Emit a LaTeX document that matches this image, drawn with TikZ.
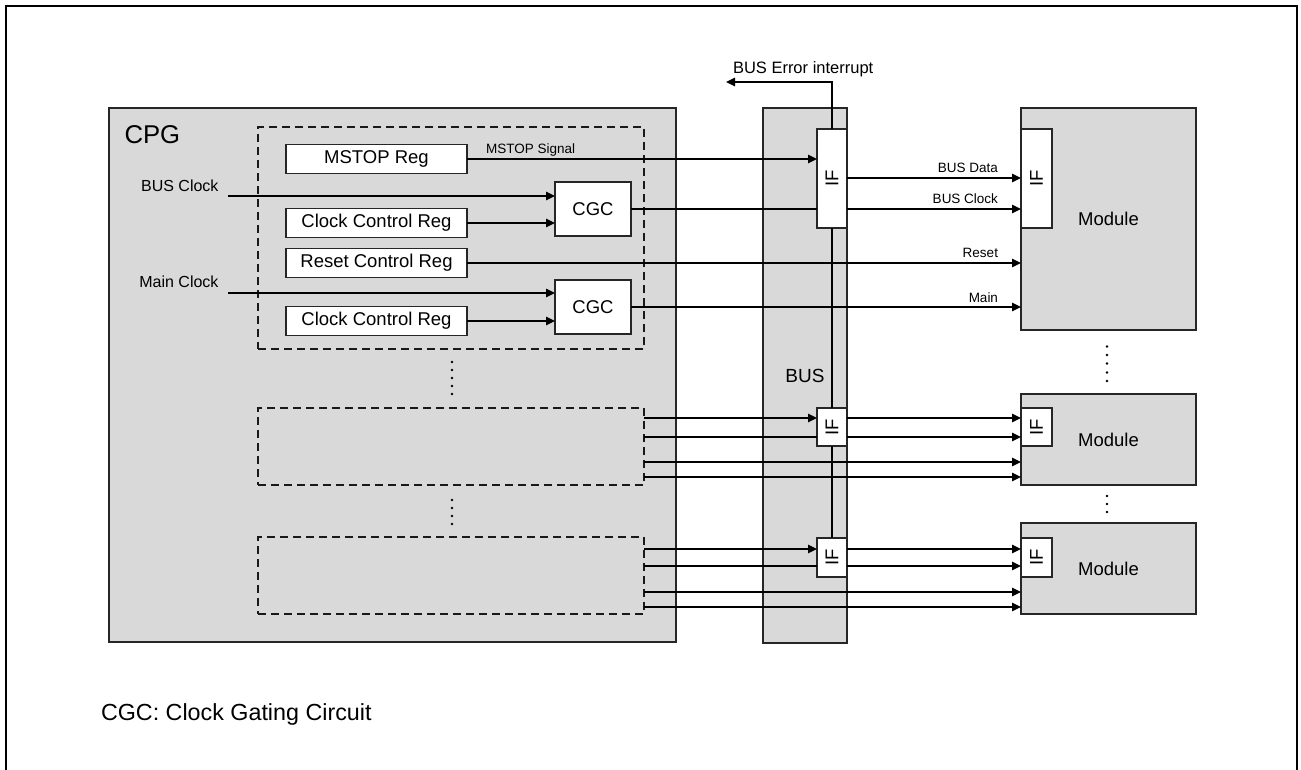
\documentclass[tikz,border=0pt]{standalone}
\usepackage{fontspec}
\setmainfont{Liberation Sans}
\usetikzlibrary{arrows.meta}
\definecolor{boxgray}{RGB}{217,217,217}
\begin{document}
\begin{tikzpicture}[x=1pt,y=-1pt,
  every node/.style={inner sep=0pt, outer sep=0pt},
  graybox/.style={draw=black!85, fill=boxgray, line width=1.6pt},
  regbox/.style={draw=black!85, fill=white, line width=1.6pt, font=\fontsize{18.5}{20}\selectfont},
  dbox/.style={draw=black!90, line width=1.5pt, dash pattern=on 8pt off 5pt},
  conn/.style={line width=1.3pt, draw=black},
  arr/.style={conn, -{Triangle[length=9pt,width=8.5pt]}},
  smalltxt/.style={font=\fontsize{13.5}{15}\selectfont},
  midtxt/.style={font=\fontsize{16}{18}\selectfont},
  bigtxt/.style={font=\fontsize{18.5}{20}\selectfont}
]
\useasboundingbox (0,0) rectangle (1301,769);
% outer frame
\draw[line width=2pt] (6,775) -- (6,6) -- (1297,6) -- (1297,775);

% main blocks
\node[graybox, minimum width=567pt, minimum height=534pt] (cpg) at (392.5,375) {};
\node[anchor=west, font=\fontsize{25.7}{28}\selectfont] (cpgt) at (124.5,135) {CPG};
\node[graybox, minimum width=84pt, minimum height=535pt] (bus) at (805,375.5) {};
\node[font=\fontsize{19}{21}\selectfont] (bust) at (805,376) {BUS};

% modules
\node[graybox, bigtxt, minimum width=175pt, minimum height=222pt] (mod1) at (1108.5,219) {Module};
\node[graybox, bigtxt, minimum width=175pt, minimum height=91pt] (mod2) at (1108.5,439.5) {Module};
\node[graybox, bigtxt, minimum width=175pt, minimum height=91pt] (mod3) at (1108.5,568.5) {Module};
\node[regbox, minimum width=31pt, minimum height=99pt] (mif1) at (1036.5,178.5) {};
\node[regbox, minimum width=31pt, minimum height=38pt] (mif2) at (1036.5,427) {};
\node[regbox, minimum width=31pt, minimum height=39pt] (mif3) at (1036.5,557.5) {};
\node[bigtxt, rotate=90] (mif1t) at (mif1) {IF};
\node[bigtxt, rotate=90] (mif2t) at (mif2) {IF};
\node[bigtxt, rotate=90] (mif3t) at (mif3) {IF};

% bus interfaces
\node[regbox, minimum width=30pt, minimum height=99pt] (ifA) at (832,178.5) {};
\node[regbox, minimum width=30pt, minimum height=38pt] (ifB) at (832,427) {};
\node[regbox, minimum width=30pt, minimum height=39pt] (ifC) at (832,557.5) {};
\node[bigtxt, rotate=90] (ifAt) at (ifA) {IF};
\node[bigtxt, rotate=90] (ifBt) at (ifB) {IF};
\node[bigtxt, rotate=90] (ifCt) at (ifC) {IF};

% dashed groups
\node[dbox, minimum width=386pt, minimum height=222pt] (d1) at (451,238) {};
\node[dbox, minimum width=386pt, minimum height=77pt] (d2) at (451,446.5) {};
\node[dbox, minimum width=386pt, minimum height=77pt] (d3) at (451,575.5) {};

% registers
\node[regbox, minimum width=181pt, minimum height=29pt] (mstop) at (376.5,159) {MSTOP Reg};
\node[regbox, minimum width=181pt, minimum height=29pt] (ccr1) at (376.5,223) {Clock Control Reg};
\node[regbox, minimum width=181pt, minimum height=29pt] (rcr) at (376.5,263) {Reset Control Reg};
\node[regbox, minimum width=181pt, minimum height=29pt] (ccr2) at (376.5,321) {Clock Control Reg};
\node[regbox, minimum width=76pt, minimum height=54pt] (cgc1) at (593,209) {CGC};
\node[regbox, minimum width=76pt, minimum height=54pt] (cgc2) at (593,307) {CGC};

% clock inputs
\node[midtxt, anchor=east] (bclkt) at (218.5,186) {BUS Clock};
\node[midtxt, anchor=east] (mclkt) at (218.5,282) {Main Clock};
\coordinate (bclk) at (228,196);
\coordinate (mclk) at (228,293);
\draw[arr] (bclk) -- (bclk -| cgc1.west);
\draw[arr] (mclk) -- (mclk -| cgc2.west);
\draw[arr] (ccr1.east) -- (ccr1.east -| cgc1.west);
\draw[arr] (ccr2.east) -- (ccr2.east -| cgc2.west);

% group 1 signals
\draw[arr] (mstop.east) -- (mstop.east -| ifA.west);
\node[smalltxt, anchor=base west] (mstopt) at (486,153) {MSTOP Signal};
\draw[conn] (cgc1.east) -- (cgc1.east -| ifA.west);
\draw[arr] (ifA.east |- cgc1.east) -- (cgc1.east -| mif1.west);
\coordinate (bdata) at (847,178);
\draw[arr] (bdata) -- (bdata -| mif1.west);
\draw[arr] (rcr.east) -- (rcr.east -| mod1.west);
\draw[arr] (cgc2.east) -- (cgc2.east -| mod1.west);
\node[smalltxt, anchor=base east] (bdatat) at (998,172) {BUS Data};
\node[smalltxt, anchor=base east] (bclkt2) at (998,203) {BUS Clock};
\node[smalltxt, anchor=base east] (rstt) at (998,257) {Reset};
\node[smalltxt, anchor=base east] (maint) at (998,302) {Main};

% bus error and bus spine
\coordinate (errtip) at (726,82);
\draw[arr] (ifA.north) -- (ifA.north |- errtip) -- (errtip);
\node[font=\fontsize{16.5}{18}\selectfont, anchor=base west] (errt) at (733,73) {BUS Error interrupt};
\draw[conn] (ifA.south) -- (ifB.north);
\draw[conn] (ifB.south) -- (ifC.north);

% group 2
\coordinate (g2a) at (644,418);
\coordinate (g2b) at (644,437);
\coordinate (g2c) at (644,462);
\coordinate (g2d) at (644,477);
\draw[arr] (g2a) -- (g2a -| ifB.west);
\draw[arr] (ifB.east |- g2a) -- (g2a -| mif2.west);
\draw[conn] (g2b) -- (g2b -| ifB.west);
\draw[arr] (ifB.east |- g2b) -- (g2b -| mif2.west);
\draw[arr] (g2c) -- (g2c -| mod2.west);
\draw[arr] (g2d) -- (g2d -| mod2.west);

% group 3
\coordinate (g3a) at (644,549);
\coordinate (g3b) at (644,566);
\coordinate (g3c) at (644,592);
\coordinate (g3d) at (644,607);
\draw[arr] (g3a) -- (g3a -| ifC.west);
\draw[arr] (ifC.east |- g3a) -- (g3a -| mif3.west);
\draw[conn] (g3b) -- (g3b -| ifC.west);
\draw[arr] (ifC.east |- g3b) -- (g3b -| mif3.west);
\draw[arr] (g3c) -- (g3c -| mod3.west);
\draw[arr] (g3d) -- (g3d -| mod3.west);

% ellipsis dots
\foreach \y in {362,370,378,386,394} \fill (452,\y) circle (1.3pt);
\foreach \y in {500,508,516,524} \fill (452,\y) circle (1.3pt);
\foreach \y in {346.5,355,363.5,372.5,381} \fill (1107,\y) circle (1.3pt);
\foreach \y in {496,504,512} \fill (1107,\y) circle (1.3pt);

% footnote
\node[font=\fontsize{23.3}{26}\selectfont, anchor=base west] (note) at (101,720) {CGC: Clock Gating Circuit};
\end{tikzpicture}
\end{document}
